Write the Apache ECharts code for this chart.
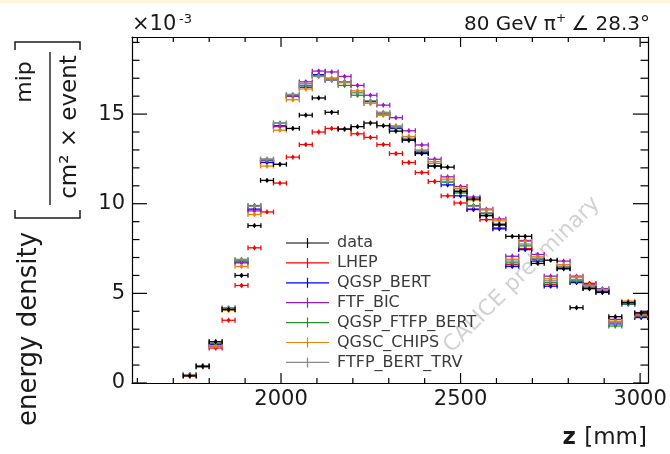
<!DOCTYPE html>
<html>
<head>
<meta charset="utf-8">
<script src="https://cdn.jsdelivr.net/npm/echarts@6/dist/echarts.min.js"></script>
<style>
  html, body { margin: 0; padding: 0; background: #fff; }
  .layer { position: absolute; left: 0; top: 0; width: 670px; height: 454px; }
</style>
</head>
<body>
<!-- frame layer (axes, titles, watermark) sits under the plot layer (ticks, histograms, legend) -->
<div class="layer" id="frame"></div>
<div class="layer" id="chart"></div>
<script>
// Longitudinal energy density profile, 80 GeV pi+ at 28.3 degrees.
// Bin centres along z [mm]
const zBins = [1746, 1782, 1818, 1854, 1890, 1926, 1961, 1997, 2033, 2069,
               2105, 2141, 2177, 2213, 2249, 2285, 2320, 2356, 2392, 2428,
               2464, 2500, 2536, 2572, 2608, 2644, 2680, 2715, 2751, 2787,
               2823, 2859, 2895, 2931, 2967, 3003];

// energy density in units of 1e-3 mip / (cm^2 x event)
const dataVals = [0.40, 0.93, 2.30, 4.10, 6.00, 8.78, 11.30, 12.20, 14.20, 14.94,
                  15.90, 15.10, 14.17, 14.30, 14.50, 14.35, 14.05, 13.55, 12.80, 12.10,
                  12.04, 10.68, 10.26, 9.33, 8.83, 8.18, 8.18, 6.67, 6.85, 6.37,
                  4.20, 5.26, 5.07, 3.70, 4.48, 3.90];
const lhepVals = [0.38, 0.90, 1.95, 3.50, 5.44, 7.54, 9.54, 11.15, 12.60, 13.30,
                  14.00, 14.20, 14.15, 13.90, 13.70, 13.30, 12.80, 12.30, 11.74, 11.24,
                  10.44, 10.04, 9.67, 9.11, 8.65, 6.60, 7.50, 6.90, 5.50, 6.50,
                  5.65, 5.56, 5.15, 3.40, 4.50, 3.70];
const qgspBertVals = [0.45, 0.95, 2.15, 4.10, 6.75, 9.70, 12.30, 14.35, 16.00, 16.50,
                      17.20, 16.90, 16.80, 16.20, 15.70, 15.00, 14.20, 13.55, 12.85, 12.10,
                      11.05, 10.44, 9.70, 9.35, 8.60, 6.50, 7.44, 6.80, 5.40, 6.40,
                      5.60, 5.30, 5.05, 3.30, 4.40, 3.65];
const ftfBicVals = [0.43, 0.92, 2.05, 4.15, 6.70, 9.60, 12.40, 14.30, 16.00, 16.80,
                    17.40, 17.35, 17.10, 16.60, 16.05, 15.50, 14.80, 14.07, 13.28, 12.48,
                    11.50, 10.96, 10.37, 9.70, 9.15, 7.07, 7.95, 7.17, 5.96, 6.80,
                    5.96, 5.50, 5.26, 3.55, 4.50, 3.93];
const qgspFtfpBertVals = [0.46, 0.96, 2.20, 4.18, 6.85, 9.90, 12.45, 14.50, 16.05, 16.60,
                          17.15, 17.00, 16.60, 16.05, 15.60, 14.95, 14.25, 13.60, 12.90, 12.10,
                          11.20, 10.60, 9.90, 9.45, 8.80, 6.70, 7.65, 6.90, 5.60, 6.45,
                          5.70, 5.35, 5.10, 3.18, 4.40, 3.75];
const qgscChipsVals = [0.40, 0.90, 2.07, 4.05, 6.50, 9.40, 12.10, 14.10, 15.80, 16.40,
                       17.10, 17.00, 16.75, 16.30, 15.60, 14.95, 14.35, 13.75, 13.00, 12.35,
                       11.37, 10.85, 10.20, 9.65, 9.05, 6.90, 7.90, 7.04, 5.81, 6.60,
                       5.90, 5.45, 5.20, 3.45, 4.57, 3.83];
const ftfpBertTrvVals = [0.47, 0.97, 2.30, 4.20, 6.90, 9.85, 12.50, 14.50, 16.10, 16.70,
                         17.10, 16.90, 16.80, 16.20, 15.75, 15.10, 14.30, 13.65, 12.95, 12.25,
                         11.25, 10.75, 9.85, 9.50, 8.90, 6.80, 7.75, 6.95, 5.70, 6.50,
                         5.78, 5.40, 5.15, 3.35, 4.45, 3.80];

// axis tick positions
const xMajorTicks = [2000, 2500, 3000];
const xMinorTicks = [1600, 1700, 1800, 1900, 2100, 2200, 2300, 2400, 2600, 2700, 2800, 2900];
const yMajorTicks = [0, 5, 10, 15];
const yMinorTicks = [1, 2, 3, 4, 6, 7, 8, 9, 11, 12, 13, 14, 16, 17, 18, 19];

const X_MIN = 1585, X_MAX = 3022, Y_MIN = 0, Y_MAX = 19.3;
const Y_MAJOR_STEP = 5;
const HALF_BIN = 18;
const FONT = "'DejaVu Sans', sans-serif";
const GRID = { left: 132, right: 22, top: 37, bottom: 71 };

// plotting order: models first, measurement on top
const seriesDefs = [
  { name: 'LHEP',           color: '#ff0000', vals: lhepVals },
  { name: 'QGSP_BERT',      color: '#0000ff', vals: qgspBertVals },
  { name: 'FTF_BIC',        color: '#9a1cc0', vals: ftfBicVals },
  { name: 'QGSP_FTFP_BERT', color: '#23902a', vals: qgspFtfpBertVals },
  { name: 'QGSC_CHIPS',     color: '#e8820c', vals: qgscChipsVals },
  { name: 'FTFP_BERT_TRV',  color: '#888888', vals: ftfpBertTrvVals },
  { name: 'data',           color: '#000000', vals: dataVals }
];
const legendOrder = ['data', 'LHEP', 'QGSP_BERT', 'FTF_BIC', 'QGSP_FTFP_BERT', 'QGSC_CHIPS', 'FTFP_BERT_TRV'];

// histogram point: bin-wide horizontal bar with end caps, small vertical bar and dot
function renderBinPoint(params, api) {
  const z = api.value(0), v = api.value(1);
  const c = api.coord([z, v]);
  const l = api.coord([z - HALF_BIN, v]);
  const r = api.coord([z + HALF_BIN, v]);
  const col = api.visual('color');
  const st = { stroke: col, lineWidth: 1.3 };
  const cap = 2.4, ev = 2.4;
  return {
    type: 'group',
    children: [
      { type: 'line', shape: { x1: l[0], y1: c[1], x2: r[0], y2: c[1] }, style: st },
      { type: 'line', shape: { x1: l[0], y1: c[1] - cap, x2: l[0], y2: c[1] + cap }, style: st },
      { type: 'line', shape: { x1: r[0], y1: c[1] - cap, x2: r[0], y2: c[1] + cap }, style: st },
      { type: 'line', shape: { x1: c[0], y1: c[1] - ev, x2: c[0], y2: c[1] + ev }, style: st },
      { type: 'circle', shape: { cx: c[0], cy: c[1], r: 1.7 }, style: { fill: col } }
    ]
  };
}

// inner frame ticks on all four sides; kind 0/1 = x major/minor, 2/3 = y major/minor
const TICK_LEN = [10, 5, 15, 7.5];
function renderFrameTick(params, api) {
  const v = api.value(0), kind = api.value(1);
  const cs = params.coordSys;
  const len = TICK_LEN[kind];
  const st = { stroke: '#000', lineWidth: 1.2 };
  if (kind < 2) {
    const x = api.coord([v, Y_MIN])[0];
    const yb = cs.y + cs.height, yt = cs.y;
    return { type: 'group', children: [
      { type: 'line', shape: { x1: x, y1: yb, x2: x, y2: yb - len }, style: st },
      { type: 'line', shape: { x1: x, y1: yt, x2: x, y2: yt + len }, style: st }
    ] };
  }
  const y = api.coord([X_MIN, v])[1];
  const xl = cs.x, xr = cs.x + cs.width;
  return { type: 'group', children: [
    { type: 'line', shape: { x1: xl, y1: y, x2: xl + len, y2: y }, style: st },
    { type: 'line', shape: { x1: xr, y1: y, x2: xr - len, y2: y }, style: st }
  ] };
}
const tickItems = [].concat(
  xMajorTicks.map(t => [t, 0]), xMinorTicks.map(t => [t, 1]),
  yMajorTicks.map(t => [t, 2]), yMinorTicks.map(t => [t, 3]));

const frameLine = { color: '#000', width: 1.2 };
const labelStyle = { fontSize: 21, fontFamily: FONT, color: '#1a1a1a' };
const txt = (o) => Object.assign({ fontFamily: FONT, fill: '#1a1a1a' }, o);

// ---- frame layer: box, tick labels, titles, watermark ----
const frame = echarts.init(document.getElementById('frame'), null, { renderer: 'canvas' });
frame.setOption({
  animation: false,
  backgroundColor: '#ffffff',
  grid: GRID,
  xAxis: [
    { type: 'value', position: 'bottom', min: X_MIN, max: X_MAX,
      axisLine: { show: true, onZero: false, lineStyle: frameLine },
      axisTick: { show: false },
      axisLabel: Object.assign({ show: true, customValues: xMajorTicks, margin: 6, formatter: v => String(v) }, labelStyle),
      splitLine: { show: false } },
    { type: 'value', position: 'top', min: X_MIN, max: X_MAX,
      axisLine: { show: true, onZero: false, lineStyle: frameLine },
      axisTick: { show: false }, axisLabel: { show: false }, splitLine: { show: false } }
  ],
  yAxis: [
    { type: 'value', position: 'left', min: Y_MIN, max: Y_MAX, interval: Y_MAJOR_STEP,
      axisLine: { show: true, onZero: false, lineStyle: frameLine },
      axisTick: { show: false },
      axisLabel: Object.assign({ show: true, margin: 7, showMaxLabel: false,
        formatter: v => (v % Y_MAJOR_STEP === 0 ? String(v) : '') }, labelStyle),
      splitLine: { show: false } },
    { type: 'value', position: 'right', min: Y_MIN, max: Y_MAX,
      axisLine: { show: true, onZero: false, lineStyle: frameLine },
      axisTick: { show: false }, axisLabel: { show: false }, splitLine: { show: false } }
  ],
  graphic: [
    { type: 'rect', shape: { x: 0, y: 0, width: 670, height: 3 }, style: { fill: '#fcf5d6' }, silent: true },
    { type: 'text', x: 522, y: 275, rotation: Math.PI / 4, silent: true,
      style: txt({ text: 'CALICE preliminary', fontSize: 22, fill: '#d2d2d2', align: 'center', verticalAlign: 'middle' }) },
    { type: 'text', x: 132, y: 25, silent: true, style: txt({ text: '×10', fontSize: 21, verticalAlign: 'middle' }) },
    { type: 'text', x: 179, y: 20, silent: true, style: txt({ text: '-3', fontSize: 13, verticalAlign: 'middle' }) },
    { type: 'text', x: 464, y: 25, silent: true, style: txt({ text: '80 GeV π', fontSize: 20, verticalAlign: 'middle' }) },
    { type: 'text', x: 556, y: 19, silent: true, style: txt({ text: '+', fontSize: 12, verticalAlign: 'middle' }) },
    { type: 'text', x: 650, y: 25, silent: true, style: txt({ text: '∠ 28.3°', fontSize: 20, align: 'right', verticalAlign: 'middle' }) },
    { type: 'text', x: 647, y: 438, silent: true, style: txt({ text: '[mm]', fontSize: 23, align: 'right', verticalAlign: 'middle' }) },
    { type: 'text', x: 576, y: 438, silent: true, style: txt({ text: 'z', fontSize: 23, fontWeight: 'bold', align: 'right', verticalAlign: 'middle' }) },
    { type: 'text', x: 29, y: 329, rotation: Math.PI / 2, silent: true,
      style: txt({ text: 'energy density', fontSize: 26, align: 'center', verticalAlign: 'middle' }) },
    { type: 'text', x: 25, y: 82, rotation: Math.PI / 2, silent: true,
      style: txt({ text: 'mip', fontSize: 22, align: 'center', verticalAlign: 'middle' }) },
    { type: 'text', x: 70, y: 127, rotation: Math.PI / 2, silent: true,
      style: txt({ text: 'cm² × event', fontSize: 23, align: 'center', verticalAlign: 'middle' }) },
    { type: 'line', silent: true, shape: { x1: 50, y1: 52, x2: 50, y2: 205 }, style: { stroke: '#1a1a1a', lineWidth: 1.4 } },
    { type: 'polyline', silent: true, shape: { points: [[15, 50], [15, 42], [80, 42], [80, 50]] }, style: { stroke: '#1a1a1a', lineWidth: 1.5, fill: 'none' } },
    { type: 'polyline', silent: true, shape: { points: [[15, 210], [15, 218], [80, 218], [80, 210]] }, style: { stroke: '#1a1a1a', lineWidth: 1.5, fill: 'none' } }
  ]
});

// ---- plot layer: frame ticks, histograms and legend over the same grid and ranges ----
const chart = echarts.init(document.getElementById('chart'), null, { renderer: 'canvas' });
chart.setOption({
  animation: false,
  backgroundColor: 'transparent',
  grid: GRID,
  xAxis: { type: 'value', min: X_MIN, max: X_MAX, show: false },
  yAxis: { type: 'value', min: Y_MIN, max: Y_MAX, show: false },
  legend: {
    data: legendOrder,
    orient: 'vertical',
    left: 286, top: 235, padding: 0,
    itemWidth: 43, itemHeight: 10, itemGap: 3.9,
    icon: 'path://M0,4.4h43v1.2h-43z M20.9,0h1.2v10h-1.2z',
    textStyle: { fontSize: 16, fontFamily: FONT, color: '#3a3a3a', padding: [0, 0, 0, 3] },
    selectedMode: false
  },
  series: [{
    name: 'frame ticks',
    type: 'custom',
    clip: false,
    silent: true,
    renderItem: renderFrameTick,
    encode: { x: 0, y: 1 },
    data: tickItems
  }].concat(seriesDefs.map(s => ({
    name: s.name,
    type: 'custom',
    clip: true,
    itemStyle: { color: s.color },
    renderItem: renderBinPoint,
    encode: { x: 0, y: 1 },
    data: zBins.map((z, i) => [z, s.vals[i]])
  })))
});
</script>
</body>
</html>
